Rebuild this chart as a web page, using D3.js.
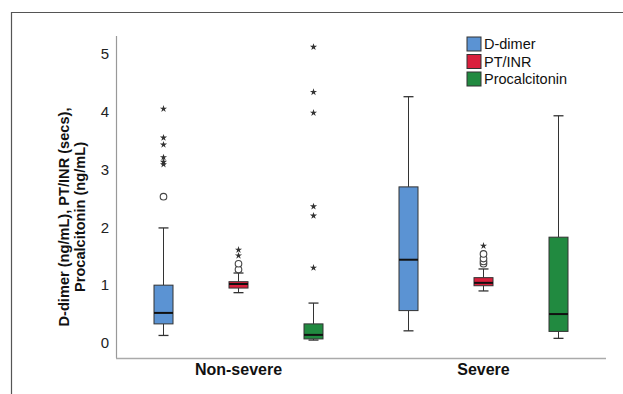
<!DOCTYPE html>
<html><head><meta charset="utf-8">
<script src="https://cdn.jsdelivr.net/npm/d3@7"></script>
<style>body{margin:0;background:#fff}svg{display:block}text{font-family:"Liberation Sans",Arial,sans-serif}</style>
</head><body>
<svg id="chart" width="623" height="394"></svg>
<script>
const groups = ["Non-severe", "Severe"];
const series = ["D-dimer", "PT/INR", "Procalcitonin"];
const seriesColors = ["#5b93d3", "#d91f3c", "#218a40"];
const yTicks = [0, 1, 2, 3, 4, 5];
// [whiskerLow, Q1, median, Q3, whiskerHigh] per group
const ddimerStats = [[0.13, 0.33, 0.52, 1.0, 1.99], [0.21, 0.56, 1.44, 2.70, 4.26]];
const ptinrStats = [[0.87, 0.95, 1.02, 1.06, 1.21], [0.90, 0.99, 1.04, 1.13, 1.28]];
const pctStats = [[0.05, 0.07, 0.14, 0.33, 0.69], [0.08, 0.20, 0.50, 1.83, 3.93]];
// outliers: circles (mild) and stars (extreme)
const ddimerCircles = [[2.53], []];
const ddimerStars = [[4.05, 3.55, 3.43, 3.21, 3.13, 3.09], []];
const ptinrCircles = [[1.27, 1.37], [1.37, 1.41, 1.46, 1.54]];
const ptinrStars = [[1.51, 1.61], [1.68]];
const pctCircles = [[], []];
const pctStars = [[5.12, 4.34, 3.98, 2.36, 2.20, 1.30], []];

const allStats = [ddimerStats, ptinrStats, pctStats];
const allCircles = [ddimerCircles, ptinrCircles, pctCircles];
const allStars = [ddimerStars, ptinrStars, pctStars];

const svg = d3.select("#chart");
const axisLeft = 116, axisRight = 606, axisTop = 36, axisBottom = 358;

// outer frame
svg.append("path").attr("d", "M11.5,394 L11.5,12.5 L623,12.5")
  .attr("fill", "none").attr("stroke", "#555").attr("stroke-width", 1.2);

const y = d3.scaleLinear().domain([-0.26, 5.31]).range([axisBottom, axisTop]);
const x = d3.scaleBand().domain(groups).range([axisLeft, axisRight]).padding(0);
const xs = d3.scaleBand().domain(series).range([-112.5, 112.5]).padding(0);
const boxW = 19, capW = 10;

// axes lines
svg.append("line").attr("x1", axisLeft + 0.5).attr("x2", axisLeft + 0.5).attr("y1", axisTop).attr("y2", axisBottom)
  .attr("stroke", "#999").attr("stroke-width", 1.2);
svg.append("line").attr("x1", axisLeft).attr("x2", axisRight).attr("y1", axisBottom + 0.5).attr("y2", axisBottom + 0.5)
  .attr("stroke", "#aaa").attr("stroke-width", 1.5);

// y tick labels
const yAxis = d3.axisLeft(y).tickValues(yTicks).tickSize(0).tickPadding(0).tickFormat(d3.format("d"));
const yg = svg.append("g").attr("transform", `translate(${axisLeft - 7},0)`).call(yAxis);
yg.select(".domain").remove();
yg.selectAll("text").attr("font-size", 15).attr("fill", "#222")
  .style("font-family", '"Liberation Sans",Arial,sans-serif');

// x category labels
const xAxis = d3.axisBottom(x).tickSize(0).tickPadding(0);
const xg = svg.append("g").attr("transform", `translate(0,${axisBottom + 6})`).call(xAxis);
xg.select(".domain").remove();
xg.selectAll("text").attr("font-size", 16).attr("font-weight", "bold").attr("fill", "#111")
  .attr("dy", "0.71em").style("font-family", '"Liberation Sans",Arial,sans-serif');

// y axis title
const yt = svg.append("text").attr("transform", `translate(70,${(axisTop + axisBottom) / 2 + 20}) rotate(-90)`)
  .attr("text-anchor", "middle").attr("font-size", 14.6).attr("font-weight", "bold").attr("fill", "#111");
yt.append("tspan").attr("x", 0).attr("dy", "-0.1em").text("D-dimer (ng/mL), PT/INR (secs),");
yt.append("tspan").attr("x", 0).attr("dy", "1.1em").text("Procalcitonin (ng/mL)");

const star = d3.symbol().type(d3.symbolStar).size(16);

series.forEach((s, si) => {
  groups.forEach((g, gi) => {
    const cx = x(g) + x.bandwidth() / 2 + xs(s) + xs.bandwidth() / 2;
    const [lo, q1, med, q3, hi] = allStats[si][gi];
    const grp = svg.append("g");
    // whiskers
    grp.append("line").attr("x1", cx).attr("x2", cx).attr("y1", y(q3)).attr("y2", y(hi)).attr("stroke", "#333");
    grp.append("line").attr("x1", cx).attr("x2", cx).attr("y1", y(q1)).attr("y2", y(lo)).attr("stroke", "#333");
    grp.append("line").attr("x1", cx - capW / 2).attr("x2", cx + capW / 2).attr("y1", y(hi)).attr("y2", y(hi)).attr("stroke", "#333").attr("stroke-width", 1.3);
    grp.append("line").attr("x1", cx - capW / 2).attr("x2", cx + capW / 2).attr("y1", y(lo)).attr("y2", y(lo)).attr("stroke", "#333").attr("stroke-width", 1.3);
    // box
    grp.append("rect").attr("x", cx - boxW / 2).attr("width", boxW).attr("y", y(q3)).attr("height", y(q1) - y(q3))
      .attr("fill", seriesColors[si]).attr("stroke", "#333").attr("stroke-width", 1);
    grp.append("line").attr("x1", cx - boxW / 2).attr("x2", cx + boxW / 2).attr("y1", y(med)).attr("y2", y(med))
      .attr("stroke", "#111").attr("stroke-width", 2);
    // outliers
    allCircles[si][gi].forEach(v => {
      grp.append("circle").attr("cx", cx).attr("cy", y(v)).attr("r", 3.3).attr("fill", "#fff").attr("stroke", "#444").attr("stroke-width", 1.1);
    });
    allStars[si][gi].forEach(v => {
      grp.append("path").attr("d", star()).attr("transform", `translate(${cx},${y(v)})`)
        .attr("fill", "#333").attr("stroke", "none");
    });
  });
});

// legend
const lg = svg.append("g").attr("transform", "translate(467,37)");
series.forEach((s, i) => {
  const row = lg.append("g").attr("transform", `translate(0,${i * 17.5})`);
  row.append("rect").attr("width", 14).attr("height", 14).attr("fill", seriesColors[i]).attr("stroke", "#333").attr("stroke-width", 1);
  row.append("text").attr("x", 17).attr("y", 7).attr("dy", "0.35em").attr("font-size", 14.5).attr("fill", "#111").text(s);
});
</script>
</body></html>
